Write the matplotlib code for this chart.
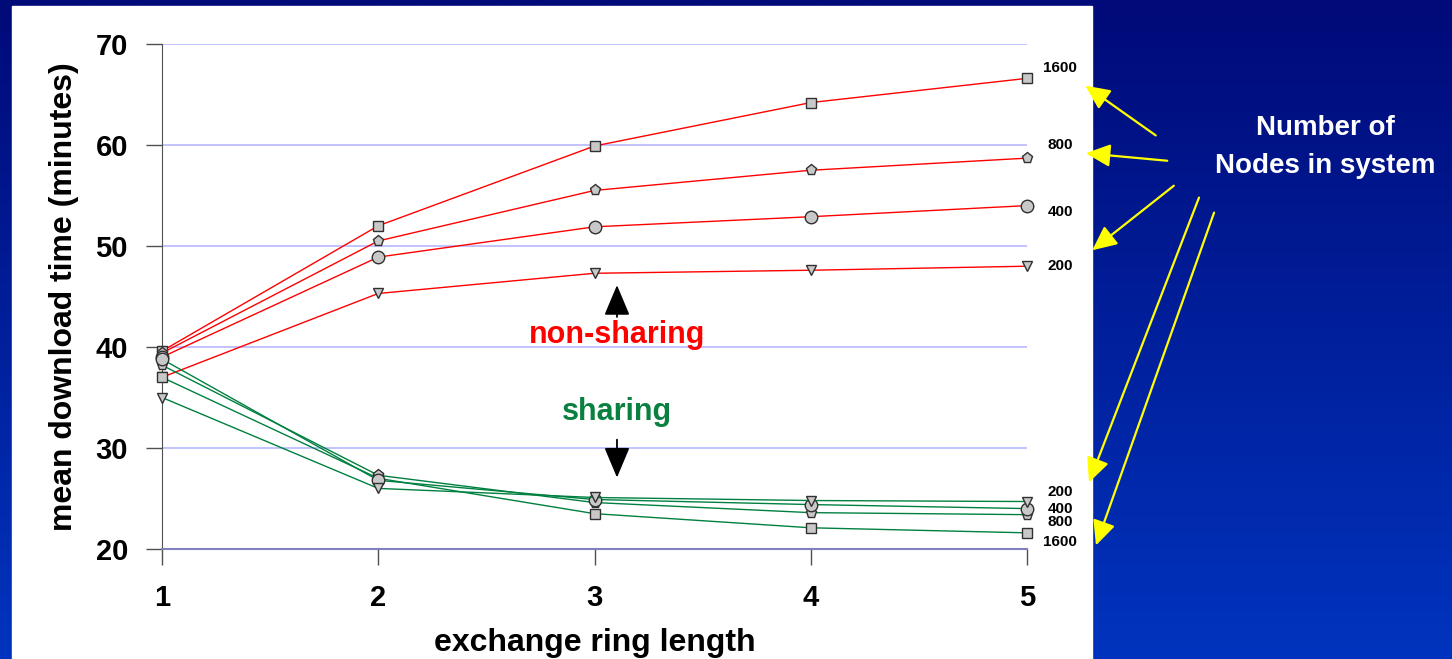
import numpy as np
import matplotlib
matplotlib.use("Agg")
import matplotlib.pyplot as plt
from matplotlib.patches import Rectangle

plt.rcParams['font.family'] = ['Liberation Sans', 'DejaVu Sans']

ring_len = [1, 2, 3, 4, 5]
node_counts = [1600, 800, 400, 200]

# mean download time (minutes), non-sharing peers
ns_1600 = [39.6, 52.0, 59.9, 64.2, 66.6]
ns_800 = [39.4, 50.5, 55.5, 57.5, 58.7]
ns_400 = [39.0, 48.9, 51.9, 52.9, 54.0]
ns_200 = [37.0, 45.3, 47.3, 47.6, 48.0]

# mean download time (minutes), sharing peers
sh_1600 = [37.0, 27.0, 23.5, 22.1, 21.6]
sh_800 = [38.2, 27.3, 24.6, 23.6, 23.4]
sh_400 = [38.8, 26.8, 24.9, 24.4, 24.0]
sh_200 = [35.0, 26.0, 25.1, 24.8, 24.7]

W, H = 1452, 659
fig = plt.figure(figsize=(W / 100, H / 100), dpi=100)

# blue slide background
bg = fig.add_axes([0, 0, 1, 1], zorder=-10)
grad = np.linspace(0, 1, 256)[:, None]
top = np.array([0, 10, 120]) / 255
bot = np.array([0, 52, 190]) / 255
img = top + (bot - top) * grad[:, :, None]
bg.imshow(np.repeat(img, 2, axis=1), aspect='auto', extent=[0, 1, 0, 1], origin='upper')
bg.set_axis_off()
bg.add_patch(Rectangle((12 / W, 0), (1092 - 12) / W, (H - 6) / H, color='white',
                       transform=bg.transAxes))

ax = fig.add_axes([162 / W, (H - 549) / H, (1027 - 162) / W, (549 - 44) / H])
ax.set_facecolor('none')

markers = {1600: ('s', 6.5), 800: ('p', 8), 400: ('o', 9), 200: ('v', 7.5)}
ns_series = dict(zip(node_counts, [ns_1600, ns_800, ns_400, ns_200]))
sh_series = dict(zip(node_counts, [sh_1600, sh_800, sh_400, sh_200]))

for series, col in [(ns_series, '#ff0000'), (sh_series, '#008040')]:
    for n in node_counts:
        m, ms = markers[n]
        ax.plot(ring_len, series[n], color=col, lw=1.0, marker=m, markersize=ms,
                markerfacecolor='#c8c8c8', markeredgecolor='#303030',
                markeredgewidth=1.0, clip_on=False, zorder=3)

# node-count labels at the right end of each curve (pixel offsets)
ns_label_dy = {1600: 10, 800: 13, 400: -6, 200: 0}
sh_label_dy = {1600: -9, 800: -7, 400: 0, 200: 10}
for series, dys in [(ns_series, ns_label_dy), (sh_series, sh_label_dy)]:
    for n in node_counts:
        ax.annotate(str(n), (ring_len[-1], series[n][-1]),
                    xytext=(33 * 0.72, dys[n] * 0.72), textcoords='offset points',
                    ha='center', va='center', fontsize=11, fontweight='bold',
                    annotation_clip=False)

ax.set_xlim(1, 5)
ax.set_ylim(20, 70)
ax.set_xticks(ring_len)
ax.set_yticks([20, 30, 40, 50, 60, 70])
ax.yaxis.grid(True, color='#b8b8ff', lw=1.2)
ax.set_axisbelow(True)
for s in ['top', 'right']:
    ax.spines[s].set_visible(False)
ax.spines['left'].set_color('#505050')
ax.spines['bottom'].set_color('#8080c0')
ax.spines['bottom'].set_linewidth(1.5)
ax.tick_params(axis='both', direction='out', length=11.5, color='#505050',
               labelsize=21, width=1)
ax.tick_params(axis='y', pad=13)
ax.tick_params(axis='x', pad=14)
for lab in ax.get_xticklabels() + ax.get_yticklabels():
    lab.set_fontweight('bold')

ax.set_xlabel('exchange ring length', fontsize=23, fontweight='bold', labelpad=11)
ax.set_ylabel('mean download time (minutes)', fontsize=23, fontweight='bold', labelpad=12)

# group annotations
ax.text(3.104, 41.2, 'non-sharing', color='#ff0000', fontsize=22, fontweight='bold',
        ha='center', va='center')
ax.text(3.104, 33.6, 'sharing', color='#0a8040', fontsize=22, fontweight='bold',
        ha='center', va='center')
black_head = dict(arrowstyle='-|>,head_length=1.9,head_width=0.8', color='black', lw=1.3)
ax.annotate('', xy=(3.104, 46.4), xytext=(3.104, 42.7), arrowprops=black_head)
ax.annotate('', xy=(3.104, 26.8), xytext=(3.104, 31.1), arrowprops=black_head)

# "Number of Nodes in system" callout
fig.text(1325 / W, (H - 147) / H, 'Number of\nNodes in system', color='white',
         fontsize=20, fontweight='bold', ha='center', va='center', linespacing=1.58)
yellow_head = dict(arrowstyle='-|>,head_length=1.5,head_width=0.7', color='#ffff00', lw=1.6)
callouts = [((1158, 137), (1083, 84)), ((1170, 161), (1083, 153)),
            ((1176, 184), (1090, 252)), ((1200, 195), (1088, 485)),
            ((1215, 210), (1095, 548))]
for (x0, y0), (x1, y1) in callouts:
    fig.add_artist(plt.Annotation('', xy=(x1, H - y1), xycoords='figure pixels',
                                  xytext=(x0, H - y0), textcoords='figure pixels',
                                  arrowprops=yellow_head))

fig.savefig('out.png', dpi=100)
